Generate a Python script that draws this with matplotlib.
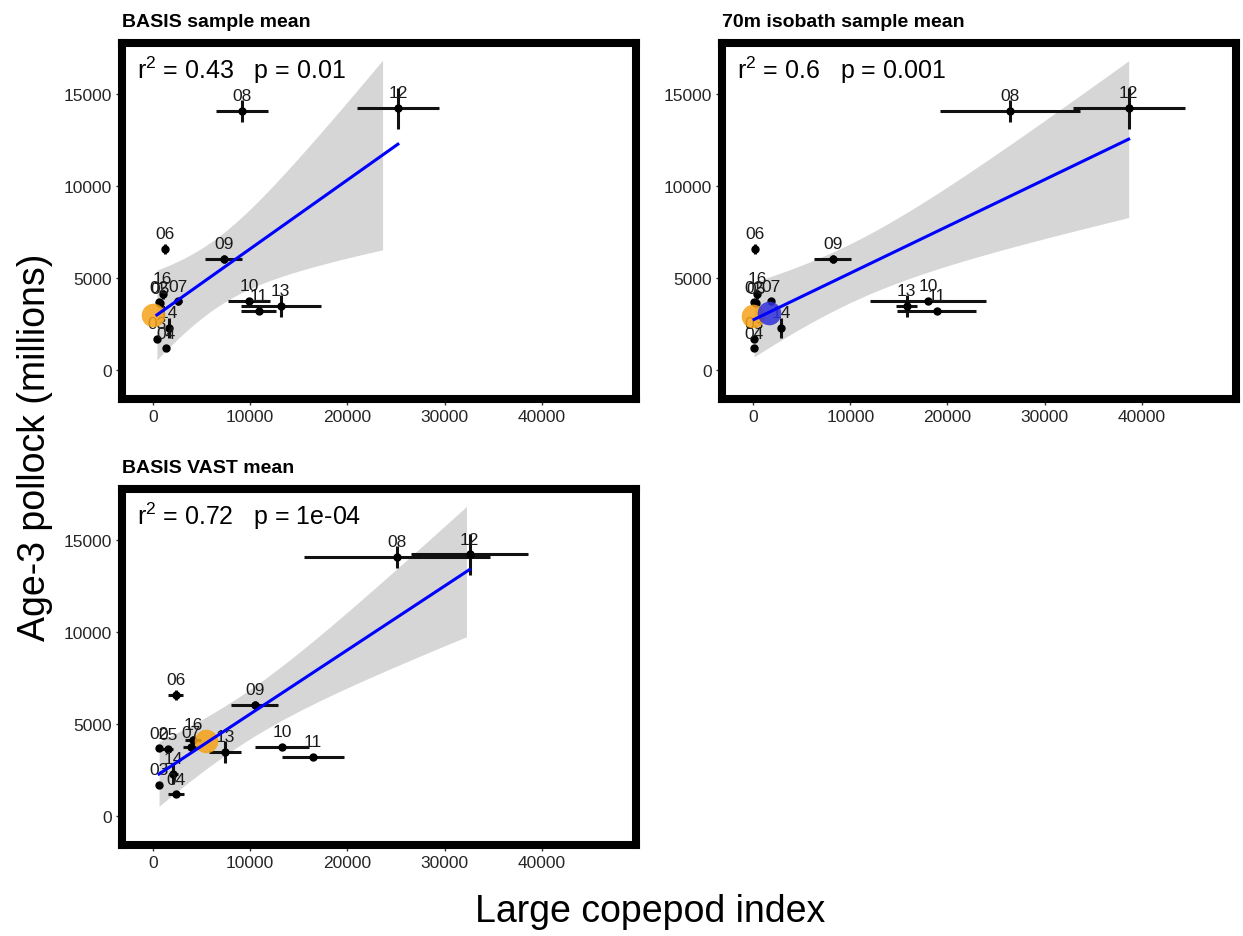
import matplotlib
matplotlib.use("Agg")
import matplotlib.pyplot as plt
import numpy as np

plt.rcParams['font.family'] = ['Liberation Sans', 'DejaVu Sans']
plt.rcParams['mathtext.default'] = 'regular'

# survey years and age-3 pollock abundance (millions)
years = ['02', '03', '04', '05', '06', '07', '08', '09', '10', '11', '12', '13', '14', '16']
pollock = [3700, 1700, 1200, 3650, 6600, 3750, 14100, 6050, 3800, 3250, 14250, 3500, 2300, 4150]
pollock_se = [100, 80, 80, 150, 250, 200, 600, 200, 150, 150, 1100, 600, 550, 250]

# large copepod index, three estimators
basis_x = [600, 400, 1300, 700, 1250, 2600, 9150, 7300, 9900, 10900, 25200, 13150, 1600, 1000]
basis_se = [0, 0, 300, 200, 200, 400, 2700, 1900, 2150, 1800, 4200, 4100, 300, 300]
iso70_x = [100, 100, 100, 300, 200, 1850, 26400, 8200, 18000, 18900, 38650, 15800, 2900, 400]
iso70_se = [0, 0, 0, 100, 100, 300, 7200, 1900, 5950, 4050, 5750, 1100, 200, 200]
vast_x = [620, 620, 2360, 1500, 2360, 3900, 25080, 10480, 13260, 16440, 32580, 7400, 2100, 4100]
vast_se = [0, 0, 850, 600, 770, 800, 9560, 2420, 2770, 3170, 6060, 1640, 500, 800]

titles = ['BASIS sample mean', '70m isobath sample mean', 'BASIS VAST mean']
stats = ['r$^2$ = 0.43   p = 0.01', 'r$^2$ = 0.6   p = 0.001', 'r$^2$ = 0.72   p = 1e-04']
orange_pt = [(0, 3000), (0, 2950), (5450, 4080)]
blue_pt = (1650, 3100)

T975 = 2.179    # t quantile, df = 12
YTOP = 16900    # ribbon dropped above this like the original scale limit


def panel(ax, x, xse, title, stat, orange, blue=None):
    x = np.array(x, float)
    y = np.array(pollock, float)
    b, a = np.polyfit(x, y, 1)
    n = len(x)
    s = np.sqrt(np.sum((y - (a + b * x)) ** 2) / (n - 2))
    sxx = np.sum((x - x.mean()) ** 2)
    xg = np.linspace(x.min(), x.max(), 300)
    fit = a + b * xg
    half = T975 * s * np.sqrt(1.0 / n + (xg - x.mean()) ** 2 / sxx)
    ok = fit + half <= YTOP
    ax.fill_between(xg, fit - half, fit + half, where=ok, color='#d6d6d6', lw=0, zorder=1)

    ax.errorbar(x, y, xerr=xse, yerr=pollock_se, fmt='o', ms=5, color='black',
                ecolor='#111111', elinewidth=2.2, capsize=0, zorder=3)

    for xi, yi, lab in zip(x, y, years):
        ax.annotate(lab, (xi, yi), xytext=(0, 11), textcoords='offset points',
                    ha='center', va='center', fontsize=12.5, color='#1a1a1a', zorder=4)

    ax.plot(*orange, 'o', ms=17, color='#f5a318', alpha=0.85, mec='none', zorder=5)
    if blue is not None:
        ax.plot(*blue, 'o', ms=17, color='#3333dd', alpha=0.85, mec='none', zorder=5)
    ax.plot(xg, fit, color='#0000ff', lw=2.2, zorder=6)

    ax.text(0.03, 0.925, stat, transform=ax.transAxes, fontsize=18, va='center', zorder=7)
    ax.set_xlim(-3200, 49700)
    ax.set_ylim(-1550, 17800)
    ax.set_xticks([0, 10000, 20000, 30000, 40000])
    ax.set_yticks([0, 5000, 10000, 15000])
    ax.tick_params(labelsize=12.5, labelcolor='#262626', length=4, width=1, color='#333333')
    for sp in ax.spines.values():
        sp.set_linewidth(5.8)
    ax.set_title(title, loc='left', fontweight='bold', fontsize=14, pad=12)


fig = plt.figure(figsize=(12.43, 9.37), dpi=100)
ax1 = fig.add_axes([0.0981, 0.5731, 0.4135, 0.380])
ax2 = fig.add_axes([0.5809, 0.5731, 0.4135, 0.380])
ax3 = fig.add_axes([0.0981, 0.0971, 0.4135, 0.380])

panel(ax1, basis_x, basis_se, titles[0], stats[0], orange_pt[0])
panel(ax2, iso70_x, iso70_se, titles[1], stats[1], orange_pt[1], blue_pt)
panel(ax3, vast_x, vast_se, titles[2], stats[2], orange_pt[2])

fig.text(0.028, 0.523, 'Age-3 pollock (millions)', rotation=90, fontsize=27,
         ha='center', va='center')
fig.text(0.523, 0.027, 'Large copepod index', fontsize=27, ha='center', va='center')

fig.savefig('out.png', dpi=100)
